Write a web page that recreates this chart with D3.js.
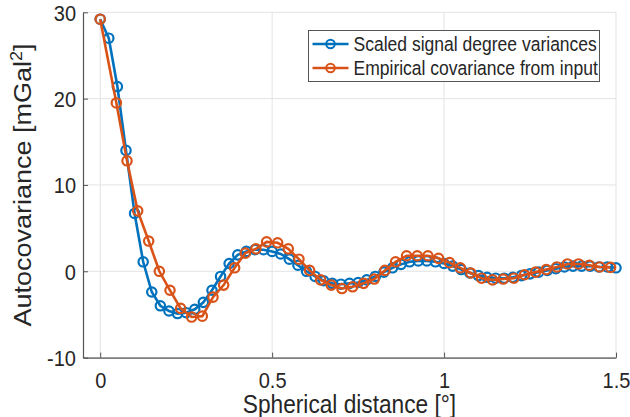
<!DOCTYPE html>
<html>
<head>
<meta charset="utf-8">
<script src="https://cdn.jsdelivr.net/npm/d3@7"></script>
<style>
  body { margin: 0; background: #fff; }
  text { font-family: "Liberation Sans", Arial, sans-serif; fill: #262626; }
</style>
</head>
<body>
<script>
// Scaled signal degree variances (blue)
var degreeDist = [0, 0.025, 0.05, 0.075, 0.1, 0.125, 0.15, 0.175, 0.2, 0.225,
  0.25, 0.275, 0.3, 0.325, 0.35, 0.375, 0.4, 0.425, 0.45, 0.475,
  0.5, 0.525, 0.55, 0.575, 0.6, 0.625, 0.65, 0.675, 0.7, 0.725,
  0.75, 0.775, 0.8, 0.825, 0.85, 0.875, 0.9, 0.925, 0.95, 0.975,
  1, 1.025, 1.05, 1.075, 1.1, 1.125, 1.15, 1.175, 1.2, 1.225,
  1.25, 1.275, 1.3, 1.325, 1.35, 1.375, 1.4, 1.425, 1.45, 1.475, 1.5];
var degreeCov = [29.2, 27.0, 21.4, 14.0, 6.7, 1.1, -2.4, -4.0, -4.6, -4.9,
  -4.8, -4.4, -3.6, -2.2, -0.6, 0.9, 1.9, 2.3, 2.5, 2.5,
  2.3, 2.0, 1.4, 0.7, 0.0, -0.6, -1.1, -1.4, -1.5, -1.4,
  -1.3, -1.0, -0.6, -0.1, 0.4, 0.8, 1.1, 1.2, 1.2, 1.1,
  0.9, 0.6, 0.2, -0.2, -0.5, -0.7, -0.8, -0.8, -0.7, -0.5,
  -0.3, -0.1, 0.1, 0.3, 0.5, 0.6, 0.6, 0.6, 0.5, 0.5, 0.4];

// Empirical covariance from input (orange)
var empDist = [0, 0.047, 0.078, 0.109, 0.141, 0.172, 0.203, 0.234, 0.266, 0.297,
  0.328, 0.359, 0.391, 0.422, 0.453, 0.484, 0.516, 0.547, 0.578, 0.609,
  0.641, 0.672, 0.703, 0.734, 0.766, 0.797, 0.828, 0.859, 0.891, 0.922,
  0.953, 0.984, 1.016, 1.047, 1.078, 1.109, 1.141, 1.172, 1.203, 1.234,
  1.266, 1.297, 1.328, 1.359, 1.391, 1.422, 1.453, 1.484];
var empCov = [29.2, 19.5, 12.8, 7.0, 3.5, 0.0, -2.2, -4.3, -5.3, -5.2,
  -3.0, -1.6, 0.4, 2.1, 2.6, 3.4, 3.3, 2.6, 1.4, 0.1,
  -1.0, -1.6, -2.0, -1.8, -1.4, -0.9, 0.1, 1.1, 1.8, 1.8,
  1.8, 1.5, 1.0, 0.4, -0.2, -0.8, -1.0, -0.9, -0.8, -0.4,
  -0.1, 0.2, 0.5, 0.85, 0.85, 0.7, 0.5, 0.45];

var xTicks = [0, 0.5, 1, 1.5];
var yTicks = [-10, 0, 10, 20, 30];
var seriesNames = ["Scaled signal degree variances", "Empirical covariance from input"];
var seriesColors = ["#0072BD", "#D95319"];

// the original picture is a bit squeezed horizontally, text too
var squeeze = 0.89;

// Width and height
var w = 630;
var h = 417;
var margin = {top: 12.3, right: 14, bottom: 59.4, left: 83};
var graphWidth = w - margin.left - margin.right;
var graphHeight = h - margin.top - margin.bottom;

var svg = d3.select("body")
            .append("svg")
            .attr("width", w)
            .attr("height", h);

var graph = svg.append("g")
               .attr("transform", `translate(${margin.left}, ${margin.top})`);

var xScale = d3.scaleLinear()
               .domain([-0.05, 1.5])
               .range([0, graphWidth]);

var yScale = d3.scaleLinear()
               .domain([-10, 30])
               .range([graphHeight, 0]);

// grid lines
graph.selectAll(".xgrid")
     .data(xTicks)
     .enter()
     .append("line")
     .attr("x1", d => xScale(d))
     .attr("x2", d => xScale(d))
     .attr("y1", 0)
     .attr("y2", graphHeight)
     .attr("stroke", "#e3e3e3")
     .attr("stroke-width", 1);

graph.selectAll(".ygrid")
     .data(yTicks)
     .enter()
     .append("line")
     .attr("x1", 0)
     .attr("x2", graphWidth)
     .attr("y1", d => yScale(d))
     .attr("y2", d => yScale(d))
     .attr("stroke", "#e3e3e3")
     .attr("stroke-width", 1);

// axes (ticks point inwards like matlab)
var xAxis = graph.append("g")
                 .attr("transform", `translate(0, ${graphHeight})`)
                 .call(d3.axisBottom(xScale).tickValues(xTicks).tickFormat(d => String(d))
                         .tickSize(-5).tickSizeOuter(0));

var yAxis = graph.append("g")
                 .call(d3.axisLeft(yScale).tickValues(yTicks).tickFormat(d => String(d))
                         .tickSize(-5).tickSizeOuter(0));

[xAxis, yAxis].forEach(function(ax){
  ax.select(".domain").attr("stroke", "#555").attr("stroke-width", 1.2);
  ax.selectAll(".tick line").attr("stroke", "#555");
  ax.selectAll(".tick text")
    .attr("fill", "#262626")
    .attr("transform", `scale(${squeeze}, 1)`)
    .style("font-family", "'Liberation Sans', Arial, sans-serif")
    .style("font-size", "22.5px");
});
xAxis.selectAll(".tick text").attr("y", 30).attr("dy", 0);
yAxis.selectAll(".tick text").attr("x", -7 / squeeze).attr("dy", "0.35em");

// the two series
var series = [
  {x: degreeDist, y: degreeCov},
  {x: empDist, y: empCov}
];

var line = d3.line()
             .x(d => xScale(d[0]))
             .y(d => yScale(d[1]));

series.forEach(function(s, i){
  var pts = s.x.map(function(v, j){ return [v, s.y[j]]; });

  graph.append("path")
       .datum(pts)
       .attr("d", line)
       .attr("fill", "none")
       .attr("stroke", seriesColors[i])
       .attr("stroke-width", 2.6);

  graph.selectAll(".dot" + i)
       .data(pts)
       .enter()
       .append("circle")
       .attr("cx", d => xScale(d[0]))
       .attr("cy", d => yScale(d[1]))
       .attr("r", 4.7)
       .attr("fill", "none")
       .attr("stroke", seriesColors[i])
       .attr("stroke-width", 2.2);
});

// axis labels
svg.append("text")
   .attr("transform", `translate(${margin.left + graphWidth / 2}, 413) scale(${squeeze}, 1)`)
   .attr("text-anchor", "middle")
   .style("font-size", "25.5px")
   .text("Spherical distance [°]");

var ylab = svg.append("text")
   .attr("transform", `translate(31, ${margin.top + graphHeight / 2}) rotate(-90) scale(1, ${squeeze})`)
   .attr("text-anchor", "middle")
   .style("font-size", "27px");
ylab.append("tspan").text("Autocovariance [mGal");
ylab.append("tspan").attr("dy", -10).style("font-size", "18px").text("2");
ylab.append("tspan").attr("dy", 10).text("]");

// legend
var legend = svg.append("g")
                .attr("transform", "translate(308.5, 30.5)");

legend.append("rect")
      .attr("width", 291)
      .attr("height", 51)
      .attr("fill", "#fff")
      .attr("stroke", "#555")
      .attr("stroke-width", 1);

seriesNames.forEach(function(name, i){
  var row = legend.append("g")
                  .attr("transform", `translate(0, ${13.5 + i * 24})`);
  row.append("line")
     .attr("x1", 4)
     .attr("x2", 40)
     .attr("stroke", seriesColors[i])
     .attr("stroke-width", 2.6);
  row.append("circle")
     .attr("cx", 22)
     .attr("r", 4.3)
     .attr("fill", "none")
     .attr("stroke", seriesColors[i])
     .attr("stroke-width", 2);
  row.append("text")
     .attr("transform", `translate(45, 0) scale(${squeeze}, 1)`)
     .attr("dy", "0.35em")
     .style("font-size", "19.7px")
     .text(name);
});
</script>
</body>
</html>
